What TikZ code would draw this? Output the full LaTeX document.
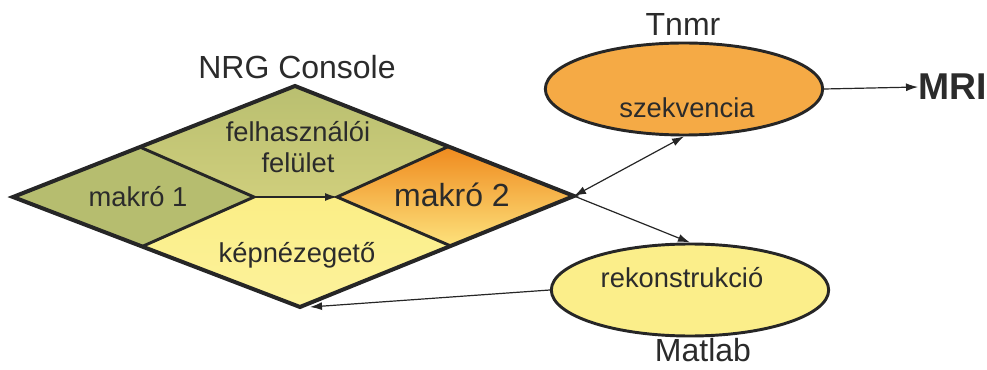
\documentclass[tikz,border=0pt]{standalone}
\usepackage{fontspec}
\setmainfont{Liberation Sans}
\usetikzlibrary{calc, shapes, arrows.meta}
\definecolor{olive1}{HTML}{B6BD6F}
\definecolor{olive2}{HTML}{B9BF70}
\definecolor{olive3}{HTML}{CFCE7C}
\definecolor{yellow1}{HTML}{FBEE86}
\definecolor{yellow2}{HTML}{FCF29C}
\definecolor{orange1}{HTML}{EF8A1E}
\definecolor{orange2}{HTML}{FDE27C}
\definecolor{ellorange}{HTML}{F5AA45}
\definecolor{ellyellow}{HTML}{FBEE8A}
\definecolor{txtgray}{HTML}{2B2B2B}

\begin{document}
\begin{tikzpicture}[x=0.75pt, y=-0.75pt, >={Latex[length=9pt,width=6pt]}]
	\tikzstyle{label}=[text=txtgray, font=\fontsize{20.5}{23.5}\selectfont, inner sep=0pt]
	\tikzstyle{title}=[label, font=\fontsize{24}{28}\selectfont]
	\tikzstyle{program}=[ellipse, draw=black!85, line width=2.2pt,
	minimum width=208pt, minimum height=69pt]
	\tikzstyle{link}=[line width=0.9pt, black!85]
	
	\useasboundingbox (0,0) rectangle (987,370);
	
	% corners of the console diamond
	\coordinate (L) at (13,197);
	\coordinate (T) at (295,86);
	\coordinate (R) at (574,196);
	\coordinate (B) at (300,307);
	\coordinate (m1t) at ($(L)!0.45!(T)$);
	\coordinate (m1b) at ($(L)!0.45!(B)$);
	\coordinate (m1r) at (254,197);
	\coordinate (m2t) at ($(R)!0.45!(T)$);
	\coordinate (m2b) at ($(R)!0.45!(B)$);
	\coordinate (m2l) at (337,197);
	
	\fill[olive1] (L) -- (m1t) -- (m1r) -- (m1b) -- cycle;
	\fill[top color=olive2, bottom color=olive3] (m1t) -- (T) -- (m2t) -- (m2l) -- (m1r) -- cycle;
	\fill[top color=yellow1, bottom color=yellow2] (m1b) -- (m1r) -- (m2l) -- (m2b) -- (B) -- cycle;
	\fill[top color=orange1, bottom color=orange2] (m2l) -- (m2t) -- (R) -- (m2b) -- cycle;
	\draw[line width=2.2pt, black!85] (m1t) -- (m1r) -- (m1b);
	\draw[line width=2.2pt, black!85] (m2t) -- (m2l) -- (m2b);
	\draw[line width=3pt, black!85] (L) -- (T) -- (R) -- (B) -- cycle;
	
	\node[title] at (297,67) (console) {NRG Console};
	\node[label, align=center] at (298,147) (gui) {felhasználói\\felület};
	\node[label] at (138,197) (macro1) {makró 1};
	\node[label, font=\fontsize{24}{28}\selectfont] at (452,195) (macro2) {makró 2};
	\node[label] at (297,255) (viewer) {képnézegető};
	
	\node[program, fill=ellorange] at (684,89) (szek) {};
	\node[label] at (687,108) (szektext) {szekvencia};
	\node[title] at (683,24) (tnmr) {Tnmr};
	\node[program, fill=ellyellow] at (690,290) (rekon) {};
	\node[label] at (682,278) (rekontext) {rekonstrukció};
	\node[title] at (703,350) (matlab) {Matlab};
	\node[label, font=\fontsize{28}{32}\selectfont\bfseries, anchor=west] at (918,87) (mri) {MRI};
	
	\draw[link, ->] (m1r) -- (m2l);
	\draw[link, <->] (R) -- (szek.south);
	\draw[link, ->] (R) -- (rekon.north);
	\draw[link, ->] (szek.east) -- (mri.west);
	\draw[link, ->] (rekon.west) -- ($(B)+(10,0)$);
	
\end{tikzpicture}
\end{document}
